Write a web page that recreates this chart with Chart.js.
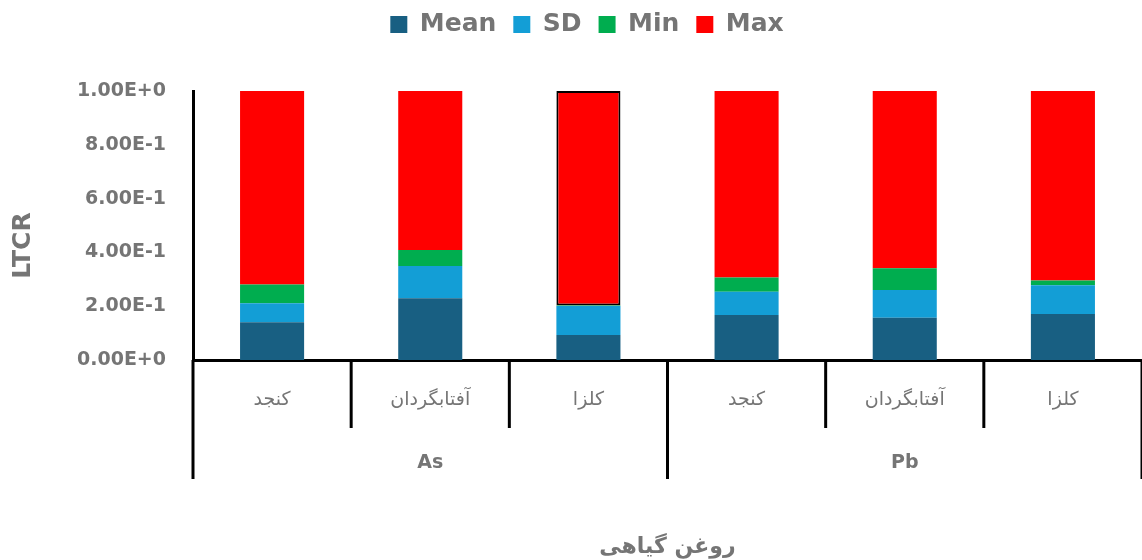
<!DOCTYPE html>
<html>
<head>
<meta charset="utf-8">
<script src="https://cdn.jsdelivr.net/npm/chart.js@4.4.1/dist/chart.umd.min.js"></script>
<style>
  html, body { margin: 0; padding: 0; background: #fff; }
  #wrap { width: 1142px; height: 560px; }
</style>
</head>
<body>
<div id="wrap"><canvas id="myChart"></canvas></div>
<script>
const categories = ['کنجد', 'آفتابگردان', 'کلزا', 'کنجد', 'آفتابگردان', 'کلزا'];
const groups = ['As', 'Pb'];
const groupSize = 3;

const meanValues = [0.14, 0.23, 0.093, 0.167, 0.157, 0.171];
const sdValues = [0.071, 0.119, 0.108, 0.087, 0.103, 0.107];
const minValues = [0.07, 0.06, 0.002, 0.053, 0.081, 0.018];
const maxValues = [0.719, 0.591, 0.797, 0.693, 0.659, 0.704];

const yTicks = [0, 0.2, 0.4, 0.6, 0.8, 1.0];
const yTitle = 'LTCR';

const gray = '#757575';
const fontFam = '"DejaVu Sans", sans-serif';

// lines between categories, group names under the axis, y title
const groupAxis = {
    id: 'groupAxis',
    afterDraw(chart) {
        const ctx = chart.ctx;
        const x = chart.scales.x;
        const area = chart.chartArea;
        const step = x.getPixelForValue(1) - x.getPixelForValue(0);
        ctx.save();
        ctx.strokeStyle = '#000';
        ctx.lineWidth = 3;
        for (let i = 0; i <= categories.length; i++) {
            const px = x.getPixelForValue(i) - step / 2;
            const long = i % groupSize === 0;
            ctx.beginPath();
            ctx.moveTo(px, area.bottom);
            ctx.lineTo(px, area.bottom + (long ? 119 : 68));
            ctx.stroke();
        }
        ctx.fillStyle = gray;
        ctx.font = 'bold 19px ' + fontFam;
        ctx.textAlign = 'center';
        ctx.textBaseline = 'middle';
        groups.forEach((g, k) => {
            const a = x.getPixelForValue(k * groupSize) - step / 2;
            const b = x.getPixelForValue((k + 1) * groupSize - 1) + step / 2;
            ctx.fillText(g, (a + b) / 2, area.bottom + 103);
        });

        ctx.translate(23, (area.top + area.bottom) / 2 + 20);
        ctx.rotate(-Math.PI / 2);
        ctx.font = 'bold 25px ' + fontFam;
        ctx.fillText(yTitle, 0, 0);
        ctx.restore();
    }
};

const legendGap = {
    id: 'legendGap',
    beforeInit(chart) {
        const fit = chart.legend.fit;
        chart.legend.fit = function () {
            fit.bind(chart.legend)();
            this.height += 44;
        };
    },
    afterLayout(chart) {
        chart.legend.left += 16;
        chart.legend.right += 16;
    }
};

const ctx = document.getElementById('myChart');

new Chart(ctx, {
    type: 'bar',
    data: {
        labels: categories,
        datasets: [
            { label: 'Mean', data: meanValues, backgroundColor: '#185f82' },
            { label: 'SD', data: sdValues, backgroundColor: '#139ed6' },
            { label: 'Min', data: minValues, backgroundColor: '#00ad4f' },
            {
                label: 'Max', data: maxValues, backgroundColor: '#ff0000',
                borderColor: '#000',
                borderWidth: [0, 0, 2, 0, 0, 0],
                borderSkipped: false
            }
        ]
    },
    options: {
        responsive: true,
        maintainAspectRatio: false,
        animation: false,
        datasets: { bar: { barPercentage: 0.405, categoryPercentage: 1 } },
        layout: { padding: { left: 0, right: 0, top: -5, bottom: 0 } },
        plugins: {
            legend: {
                position: 'top',
                labels: {
                    boxWidth: 17, boxHeight: 17, padding: 17,
                    color: gray,
                    font: { family: fontFam, size: 25, weight: 'bold' },
                    generateLabels(chart) {
                        const items = Chart.defaults.plugins.legend.labels.generateLabels(chart);
                        items.forEach(it => { it.lineWidth = 0; });
                        return items;
                    }
                }
            },
            tooltip: { enabled: false }
        },
        scales: {
            x: {
                stacked: true,
                grid: { display: false },
                border: { display: true, color: '#000', width: 3 },
                ticks: {
                    padding: 21,
                    color: gray,
                    font: { family: fontFam, size: 19 }
                },
                title: {
                    display: true,
                    text: 'روغن گیاهی',
                    color: gray,
                    padding: { top: 4, bottom: 0 },
                    font: { family: fontFam, size: 22, weight: 'bold' }
                },
                afterFit(scale) { scale.height = 200; }
            },
            y: {
                stacked: true,
                min: 0,
                max: 1,
                afterBuildTicks(scale) { scale.ticks = yTicks.map(v => ({ value: v })); },
                grid: { display: false },
                border: { display: true, color: '#000', width: 3 },
                ticks: {
                    padding: 19,
                    color: gray,
                    font: { family: fontFam, size: 19, weight: 'bold' },
                    callback: v => Number(v).toExponential(2).toUpperCase()
                },
                afterFit(scale) { scale.width = 193; }
            }
        }
    },
    plugins: [groupAxis, legendGap]
});
</script>
</body>
</html>
